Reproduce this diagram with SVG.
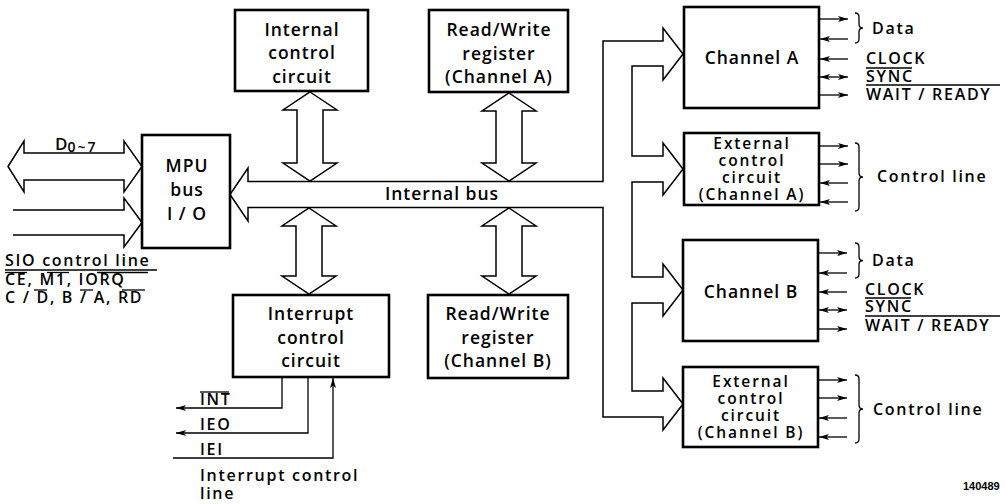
<svg xmlns="http://www.w3.org/2000/svg" width="1005" height="504" viewBox="0 0 1005 504">
<style>
.box{fill:#fff;stroke:#000;stroke-width:2.6}
.bus{fill:#fff;stroke:#000;stroke-width:1.5;stroke-linejoin:miter}
.open{fill:none;stroke:#000;stroke-width:1.5}
.sig{fill:none;stroke:#000;stroke-width:1.3}
.bar{stroke:#000;stroke-width:1.3}
.lbl{font-family:"Open Sans","Liberation Sans",sans-serif;font-size:17.5px;font-weight:600;letter-spacing:1px;text-anchor:middle;fill:#000}
.ext{font-size:15.5px;letter-spacing:1.9px}
.sl{font-family:"Open Sans","Liberation Sans",sans-serif;font-size:16px;font-weight:600;letter-spacing:1.7px;fill:#000}
.num{font-family:"Liberation Sans",sans-serif;font-size:11px;font-weight:bold;fill:#000}
</style>
<defs>
<marker id="ah" markerWidth="11" markerHeight="7" refX="10" refY="3.5" orient="auto-start-reverse" markerUnits="userSpaceOnUse">
<path d="M0,0.5 L10,3.5 L0,6.5 L2.5,3.5 z" fill="#000"/>
</marker>
</defs>
<rect width="1005" height="504" fill="#fff"/>

<g id="connectors">
<polygon class="bus" points="248,181.5 603,181.5 603,41 663,41 663,28 683,54 663,80 663,66 632,66 632,156 663,156 663,143 683,169 663,195 663,182 632,182 632,277 663,277 663,264 683,290 663,316 663,303 632,303 632,391 663,391 663,378 683,404 663,430 663,417 603,417 603,207.5 248,207.5 248,221 230,194.5 248,168"/>
<polygon class="bus" points="310,92 337,110 323,110 323,163 337,163 310,181 283,163 297,163 297,110 283,110"/>
<polygon class="bus" points="509,93 536,111 522,111 522,163 536,163 509,181 482,163 496,163 496,111 482,111"/>
<polygon class="bus" points="309,208 336,226 322,226 322,276 336,276 309,294 282,276 296,276 296,226 282,226"/>
<polygon class="bus" points="509,208 536,226 522,226 522,276 536,276 509,294 482,276 496,276 496,226 482,226"/>
<polygon class="bus" points="8,166.5 24,141 24,153 124,153 124,141 142,166.5 124,192 124,180 24,180 24,192"/>
<path class="open" d="M13,210 H124 V198 L142,222.5 L124,247 V235 H13"/>
<!-- Channel A signals -->
<line class="sig" x1="819" y1="19" x2="848" y2="19" marker-end="url(#ah)"/>
<line class="sig" x1="848" y1="39" x2="820" y2="39" marker-end="url(#ah)"/>
<line class="sig" x1="848" y1="59" x2="820" y2="59" marker-end="url(#ah)"/>
<line class="sig" x1="820" y1="77" x2="848" y2="77" marker-start="url(#ah)" marker-end="url(#ah)"/>
<line class="sig" x1="819" y1="95" x2="848" y2="95" marker-end="url(#ah)"/>
<!-- Ext A signals -->
<line class="sig" x1="819" y1="146" x2="848" y2="146" marker-end="url(#ah)"/>
<line class="sig" x1="819" y1="164" x2="848" y2="164" marker-end="url(#ah)"/>
<line class="sig" x1="848" y1="183" x2="820" y2="183" marker-end="url(#ah)"/>
<line class="sig" x1="848" y1="202" x2="820" y2="202" marker-end="url(#ah)"/>
<!-- Channel B signals -->
<line class="sig" x1="818" y1="253" x2="847" y2="253" marker-end="url(#ah)"/>
<line class="sig" x1="847" y1="273" x2="819" y2="273" marker-end="url(#ah)"/>
<line class="sig" x1="847" y1="292" x2="819" y2="292" marker-end="url(#ah)"/>
<line class="sig" x1="819" y1="310" x2="847" y2="310" marker-start="url(#ah)" marker-end="url(#ah)"/>
<line class="sig" x1="818" y1="329" x2="847" y2="329" marker-end="url(#ah)"/>
<!-- Ext B signals -->
<line class="sig" x1="818" y1="380" x2="847" y2="380" marker-end="url(#ah)"/>
<line class="sig" x1="818" y1="398" x2="847" y2="398" marker-end="url(#ah)"/>
<line class="sig" x1="847" y1="418" x2="819" y2="418" marker-end="url(#ah)"/>
<line class="sig" x1="847" y1="437" x2="819" y2="437" marker-end="url(#ah)"/>
<!-- braces -->
<path class="sig" d="M855,13 q4,0 4,4 v7 q0,4 4,4 q-4,0 -4,4 v7 q0,4 -4,4"/>
<path class="sig" d="M855,143 q4,0 4,4 v26 q0,4 4,4 q-4,0 -4,4 v26 q0,4 -4,4"/>
<path class="sig" d="M855,243 q4,0 4,4 v9.5 q0,4 4,4 q-4,0 -4,4 v9.5 q0,4 -4,4"/>
<path class="sig" d="M855,375 q4,0 4,4 v26 q0,4 4,4 q-4,0 -4,4 v26 q0,4 -4,4"/>
<!-- interrupt lines -->
<path class="sig" d="M282,377 V408 H176" marker-end="url(#ah)"/>
<path class="sig" d="M308,377 V433 H176" marker-end="url(#ah)"/>
<path class="sig" d="M173,458 H333 V378" marker-end="url(#ah)"/>
</g>

<g id="mpu">
<rect class="box" x="142" y="135" width="88" height="113"/>
<text class="lbl"><tspan x="187" y="172">MPU</tspan><tspan x="187" y="196">bus</tspan><tspan x="187" y="220">I / O</tspan></text>
</g>
<g id="internal-control">
<rect class="box" x="235" y="10" width="133" height="81"/>
<text class="lbl"><tspan x="302" y="35.5">Internal</tspan><tspan x="302" y="59">control</tspan><tspan x="302" y="82.5">circuit</tspan></text>
</g>
<g id="rw-a">
<rect class="box" x="429" y="10" width="139" height="82"/>
<text class="lbl"><tspan x="499" y="36">Read/Write</tspan><tspan x="499" y="59.5">register</tspan><tspan x="499" y="83">(Channel A)</tspan></text>
</g>
<g id="interrupt-control">
<rect class="box" x="233" y="295" width="156" height="82"/>
<text class="lbl"><tspan x="311" y="320">Interrupt</tspan><tspan x="311" y="343.5">control</tspan><tspan x="311" y="367">circuit</tspan></text>
</g>
<g id="rw-b">
<rect class="box" x="428" y="295" width="140" height="83"/>
<text class="lbl"><tspan x="498" y="320">Read/Write</tspan><tspan x="498" y="343.5">register</tspan><tspan x="498" y="367">(Channel B)</tspan></text>
</g>
<g id="channel-a">
<rect class="box" x="684" y="7" width="135" height="101"/>
<text class="lbl" x="752" y="64">Channel A</text>
</g>
<g id="ext-a">
<rect class="box" x="684" y="133" width="135" height="72"/>
<text class="lbl ext"><tspan x="752" y="149">External</tspan><tspan x="752" y="166">control</tspan><tspan x="752" y="183">circuit</tspan><tspan x="752" y="200">(Channel A)</tspan></text>
</g>
<g id="channel-b">
<rect class="box" x="683" y="240" width="135" height="101"/>
<text class="lbl" x="751" y="298">Channel B</text>
</g>
<g id="ext-b">
<rect class="box" x="683" y="367" width="135" height="80"/>
<text class="lbl ext"><tspan x="751" y="387">External</tspan><tspan x="751" y="404">control</tspan><tspan x="751" y="421">circuit</tspan><tspan x="751" y="438">(Channel B)</tspan></text>
</g>

<g id="labels">
<text class="lbl" x="442" y="200">Internal bus</text>
<text class="sl" x="55" y="150" style="font-size:17px;letter-spacing:0">D<tspan style="font-size:14px;letter-spacing:2px" dy="2">0~7</tspan></text>
<text class="sl"><tspan x="5" y="266">SIO control line</tspan><tspan x="5" y="285">CE, M1, IORQ</tspan><tspan x="5" y="303">C / D, B / A, RD</tspan></text>
<line class="bar" x1="5" y1="270" x2="157" y2="270"/>
<line class="bar" x1="5" y1="272.5" x2="27" y2="272.5"/>
<line class="bar" x1="47" y1="272.5" x2="69" y2="272.5"/>
<line class="bar" x1="97" y1="272.5" x2="148" y2="272.5"/>
<line class="bar" x1="34" y1="290" x2="47" y2="290"/>
<line class="bar" x1="80" y1="290" x2="93" y2="290"/>
<line class="bar" x1="122" y1="290" x2="145" y2="290"/>
<text class="sl" x="872" y="34">Data</text>
<text class="sl"><tspan x="866" y="64">CLOCK</tspan><tspan x="866" y="82">SYNC</tspan><tspan x="866" y="100">WAIT / READY</tspan></text>
<line class="bar" x1="866" y1="68" x2="912" y2="68"/>
<line class="bar" x1="866" y1="85" x2="1000" y2="85"/>
<text class="sl" x="877" y="182">Control line</text>
<text class="sl" x="872" y="266">Data</text>
<text class="sl"><tspan x="865" y="295">CLOCK</tspan><tspan x="865" y="312">SYNC</tspan><tspan x="865" y="331">WAIT / READY</tspan></text>
<line class="bar" x1="865" y1="298" x2="911" y2="298"/>
<line class="bar" x1="865" y1="316" x2="1000" y2="316"/>
<text class="sl" x="873" y="415">Control line</text>
<text class="sl"><tspan x="200" y="405">INT</tspan><tspan x="200" y="430">IEO</tspan><tspan x="200" y="455">IEI</tspan><tspan x="200" y="481">Interrupt control</tspan><tspan x="200" y="499">line</tspan></text>
<line class="bar" x1="200" y1="392" x2="229" y2="392"/>
<text class="num" x="963" y="490">140489</text>
</g>
</svg>
